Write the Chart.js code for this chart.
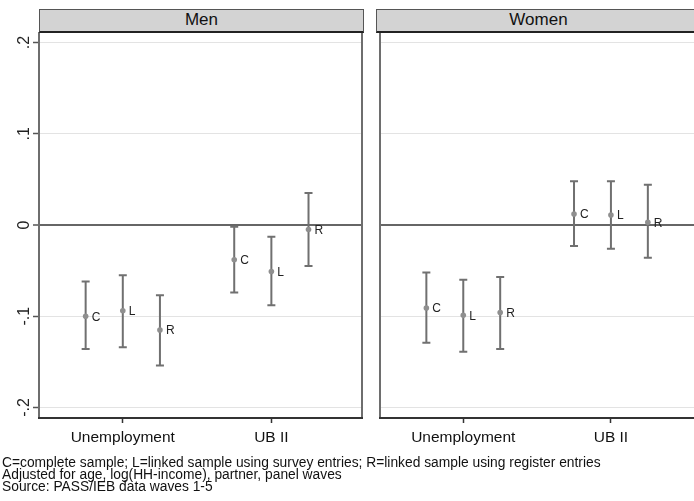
<!DOCTYPE html>
<html>
<head>
<meta charset="utf-8">
<script src="https://cdn.jsdelivr.net/npm/chart.js@4.4.1/dist/chart.umd.min.js"></script>
<style>
  html, body { margin: 0; padding: 0; background: #fff; overflow: hidden; }
  body { width: 694px; height: 501px; position: relative; font-family: "Liberation Sans", Arial, sans-serif; }
  .clip { position: absolute; top: 0; height: 460px; overflow: hidden; }
  canvas { position: absolute; top: 0; left: 0; }
  .strip {
    position: absolute; top: 9px; height: 24px; width: 325px; box-sizing: border-box;
    background: #d3d3d3; border: 1px solid #555; border-bottom: 2px solid #222;
    text-align: center; font-size: 17px; line-height: 20px; color: #111;
  }
  .note { position: absolute; left: 2px; top: 457px; font-size: 13.8px; line-height: 12px; color: #111; white-space: nowrap; }
</style>
</head>
<body>
<div class="clip" style="left:0;width:366px;"><canvas id="menChart" width="366" height="460"></canvas></div>
<div class="clip" style="left:376px;width:318px;"><canvas id="womenChart" width="340" height="460"></canvas></div>
<div class="strip" style="left:39px;">Men</div>
<div class="clip" style="left:376px;width:318px;height:40px;"><div class="strip" style="left:0;">Women</div></div>
<div class="note">C=complete sample; L=linked sample using survey entries; R=linked sample using register entries<br>Adjusted for age, log(HH-income), partner, panel waves<br>Source: PASS/IEB data waves 1-5</div>

<script>
// outcome groups on the x axis and the three samples inside each group
const groups = ['Unemployment', 'UB II'];
const samples = ['C', 'L', 'R'];
const sampleShift = [-0.25, 0, 0.25];

// y ticks
const yTickValues = [-0.2, -0.1, 0, 0.1, 0.2];
const yTickLabels = ['-.2', '-.1', '0', '.1', '.2'];

// estimates and 95% CI, order: Unemployment C,L,R then UB II C,L,R
const menEst = [-0.100, -0.094, -0.115, -0.038, -0.051, -0.005];
const menLo  = [-0.136, -0.134, -0.154, -0.074, -0.088, -0.045];
const menHi  = [-0.062, -0.055, -0.077, -0.002, -0.013,  0.035];

const womenEst = [-0.091, -0.099, -0.096, 0.012, 0.011, 0.003];
const womenLo  = [-0.129, -0.139, -0.136, -0.023, -0.026, -0.036];
const womenHi  = [-0.052, -0.060, -0.057, 0.048, 0.048, 0.044];

const errBars = {
  id: 'errBars',
  beforeDatasetsDraw(chart) {
    const c = chart.ctx, xs = chart.scales.x, ys = chart.scales.y;
    const ds = chart.data.datasets[0];
    c.save();
    c.strokeStyle = '#707070';
    c.lineWidth = 2;
    ds.data.forEach((p, i) => {
      const x = xs.getPixelForValue(p.x);
      const y1 = ys.getPixelForValue(ds.lo[i]);
      const y2 = ys.getPixelForValue(ds.hi[i]);
      c.beginPath();
      c.moveTo(x, y1); c.lineTo(x, y2);
      c.moveTo(x - 4, y1); c.lineTo(x + 4, y1);
      c.moveTo(x - 4, y2); c.lineTo(x + 4, y2);
      c.stroke();
    });
    c.restore();
  },
  afterDatasetsDraw(chart) {
    const c = chart.ctx, xs = chart.scales.x, ys = chart.scales.y;
    const ds = chart.data.datasets[0];
    c.save();
    c.fillStyle = '#222';
    c.font = '12px "Liberation Sans", Arial, sans-serif';
    c.textBaseline = 'middle';
    ds.data.forEach((p, i) => {
      c.fillText(ds.tags[i], xs.getPixelForValue(p.x) + 6, ys.getPixelForValue(p.y) + 1);
    });
    c.restore();
  },
  afterDraw(chart, args, opts) {
    const c = chart.ctx, a = chart.chartArea;
    c.save();
    c.lineWidth = 2;
    c.strokeStyle = '#6e6e6e';
    c.beginPath();
    c.moveTo(a.left, a.top); c.lineTo(a.left, a.bottom);
    if (opts.rightEdge) { c.moveTo(a.right, a.top); c.lineTo(a.right, a.bottom); }
    c.stroke();
    c.strokeStyle = '#333';
    c.beginPath();
    c.moveTo(a.left - 1, a.bottom); c.lineTo(a.right + 1, a.bottom);
    c.stroke();
    c.restore();
  }
};

function makePanel(id, est, lo, hi, showY, padLeft, padRight) {
  const pts = [], tags = [];
  groups.forEach((g, gi) => {
    samples.forEach((s, si) => {
      const k = gi * samples.length + si;
      pts.push({ x: gi + 1 + sampleShift[si], y: est[k] });
      tags.push(s);
    });
  });

  return new Chart(document.getElementById(id), {
    type: 'scatter',
    data: {
      datasets: [{
        data: pts,
        lo: lo,
        hi: hi,
        tags: tags,
        pointRadius: 2.8,
        pointBackgroundColor: '#8f8f8f',
        pointBorderWidth: 0
      }]
    },
    options: {
      responsive: false,
      animation: false,
      devicePixelRatio: 1,
      layout: { padding: { top: 32, right: padRight, bottom: 0, left: padLeft } },
      plugins: {
        legend: { display: false },
        tooltip: { enabled: false },
        errBars: { rightEdge: showY }
      },
      scales: {
        x: {
          type: 'linear',
          min: 0.436,
          max: 2.61,
          afterBuildTicks: s => { s.ticks = groups.map((g, i) => ({ value: i + 1 })); },
          afterFit: s => { s.height = 42; },
          border: { display: false },
          grid: { drawOnChartArea: false, color: '#333', tickLength: 5, tickWidth: 1.5 },
          ticks: {
            callback: v => groups[v - 1],
            color: '#111',
            padding: 5,
            maxRotation: 0,
            font: { family: '"Liberation Sans", Arial, sans-serif', size: 15.5 }
          }
        },
        y: {
          min: -0.2115,
          max: 0.2115,
          afterBuildTicks: s => { s.ticks = yTickValues.map(v => ({ value: v })); },
          afterFit: s => { s.width = showY ? 39 : 0; },
          border: { display: false },
          grid: {
            color: c => (c.tick && c.tick.value === 0) ? '#666' : '#e3e3e3',
            lineWidth: c => (c.tick && c.tick.value === 0) ? 2 : 1,
            drawTicks: showY,
            tickLength: 6,
            tickColor: '#555',
            tickWidth: 1.5
          },
          ticks: {
            display: showY,
            callback: v => yTickLabels[yTickValues.indexOf(v)],
            minRotation: 90,
            maxRotation: 90,
            crossAlign: 'center',
            padding: -1,
            color: '#222',
            font: { family: '"Liberation Sans", Arial, sans-serif', size: 16 }
          }
        }
      }
    },
    plugins: [errBars]
  });
}

makePanel('menChart', menEst, menLo, menHi, true, 0, 3);
makePanel('womenChart', womenEst, womenLo, womenHi, false, 1, 15);
</script>
</body>
</html>
